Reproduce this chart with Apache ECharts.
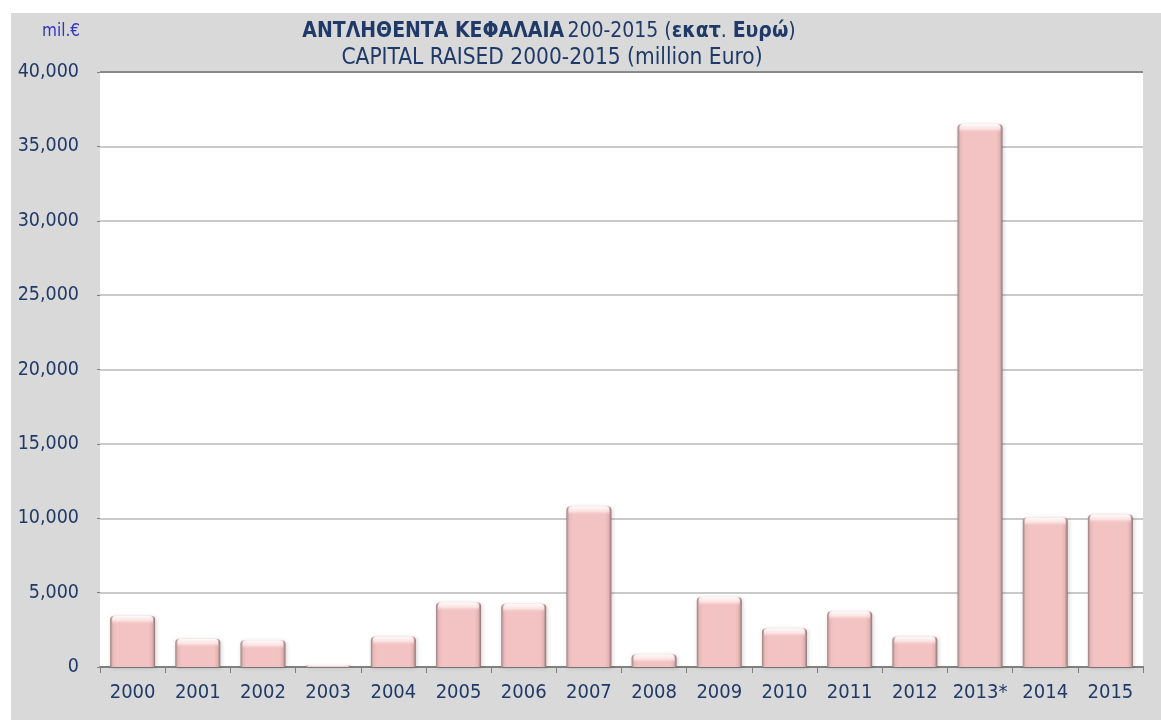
<!DOCTYPE html>
<html>
<head>
<meta charset="utf-8">
<script src="https://cdn.jsdelivr.net/npm/echarts@6/dist/echarts.min.js"></script>
<style>
html,body{margin:0;padding:0;background:#fff;width:1161px;height:720px;overflow:hidden;}
#chart{position:absolute;left:11px;top:13px;width:1150px;height:707px;}
</style>
</head>
<body>
<div id="chart"></div>
<script>
const categories = ['2000','2001','2002','2003','2004','2005','2006','2007','2008','2009','2010','2011','2012','2013*','2014','2015'];
const values = [3450, 1900, 1800, 100, 2050, 4350, 4250, 10800, 850, 4700, 2600, 3750, 2050, 36500, 10050, 10250];
const yTicks = [0, 5000, 10000, 15000, 20000, 25000, 30000, 35000, 40000];
const titleGreekBold = 'ΑΝΤΛΗΘΕΝΤΑ ΚΕΦΑΛΑΙΑ';
const titleGreekRest = '200-2015 (';
const titleGreekUnit1 = 'εκατ';
const titleGreekUnit2 = 'Ευρώ';
const titleEnglish = 'CAPITAL RAISED 2000-2015 (million Euro)';
const unitLabel = 'mil.€';

const FONT = '"DejaVu Sans Condensed", "Liberation Sans Narrow", "Roboto", sans-serif';
const NAVY = '#1f3a68';

const chart = echarts.init(document.getElementById('chart'));
const data = values.map((v, i) => [i, v]);

function renderBar(params, api) {
  const xi = api.value(0), v = api.value(1);
  const top = api.coord([xi, v]);
  const base = api.coord([xi, 0]);
  const bw = api.size([1, 0])[0] * 0.69;
  const x = top[0] - bw / 2;
  const y = top[1];
  const h = Math.max(base[1] - top[1], 1);
  const capH = Math.min(9, h);
  return {
    type: 'group',
    children: [
      {
        type: 'rect',
        shape: { x: x, y: y, width: bw, height: h, r: [4, 4, 0, 0] },
        style: {
          fill: new echarts.graphic.LinearGradient(0, 0, 1, 0, [
            { offset: 0, color: '#9a8383' },
            { offset: 0.06, color: '#e9b8b8' },
            { offset: 0.14, color: '#f3c3c3' },
            { offset: 0.86, color: '#f3c3c3' },
            { offset: 0.94, color: '#e4b2b2' },
            { offset: 1, color: '#8a7474' }
          ]),
          shadowBlur: 4,
          shadowColor: 'rgba(0,0,0,0.18)',
          shadowOffsetX: 1,
          shadowOffsetY: 1
        }
      },
      {
        type: 'rect',
        shape: { x: x + 2, y: y, width: bw - 4, height: capH, r: [4, 4, 0, 0] },
        style: {
          fill: new echarts.graphic.LinearGradient(0, 0, 0, 1, [
            { offset: 0, color: 'rgba(255,255,255,0.95)' },
            { offset: 0.55, color: 'rgba(255,240,240,0.7)' },
            { offset: 1, color: 'rgba(243,195,195,0)' }
          ])
        }
      }
    ]
  };
}

const splitColors = yTicks.map((t, i) => i === yTicks.length - 1 ? '#8a8a8a' : '#cacaca');

chart.setOption({
  backgroundColor: '#d9d9d9',
  animation: false,
  grid: { left: 89, right: 18, top: 59, bottom: 53, show: true, backgroundColor: '#ffffff', borderWidth: 0 },
  graphic: [
    {
      type: 'text', x: 538, y: 19,
      style: {
        text: '{b|' + titleGreekBold + '} {r|' + titleGreekRest + '}{b|' + titleGreekUnit1 + '}{r|. }{b|' + titleGreekUnit2 + '}{r|)}',
        align: 'center', verticalAlign: 'middle',
        rich: {
          b: { fontFamily: FONT, fontSize: 21, fontWeight: 'bold', fill: NAVY, color: NAVY },
          r: { fontFamily: FONT, fontSize: 21, fill: NAVY, color: NAVY }
        }
      }
    },
    {
      type: 'text', x: 541, y: 45,
      style: { text: titleEnglish, align: 'center', verticalAlign: 'middle', font: '22.5px ' + FONT, fill: NAVY }
    },
    {
      type: 'text', x: 69, y: 19,
      style: { text: unitLabel, align: 'right', verticalAlign: 'middle', font: '17px ' + FONT, fill: '#3434c0' }
    }
  ],
  xAxis: {
    type: 'category',
    data: categories,
    boundaryGap: true,
    axisLine: { show: true, lineStyle: { color: '#808080', width: 2 } },
    axisTick: { show: true, length: 6, alignWithLabel: false, lineStyle: { color: '#808080', width: 1 } },
    axisLabel: { color: NAVY, fontFamily: FONT, fontSize: 20, margin: 16, interval: 0 },
    splitLine: { show: false }
  },
  yAxis: {
    type: 'value',
    min: 0, max: 40000, interval: 5000,
    axisLine: { show: false },
    axisTick: { show: true, length: 3, lineStyle: { color: '#808080' } },
    axisLabel: {
      color: NAVY, fontFamily: FONT, fontSize: 19.5, margin: 21,
      formatter: v => v.toLocaleString('en-US')
    },
    splitLine: { show: true, lineStyle: { color: splitColors, width: 2 } }
  },
  series: [{
    type: 'custom',
    renderItem: renderBar,
    encode: { x: 0, y: 1 },
    data: data,
    z: 3
  }]
});
</script>
</body>
</html>
